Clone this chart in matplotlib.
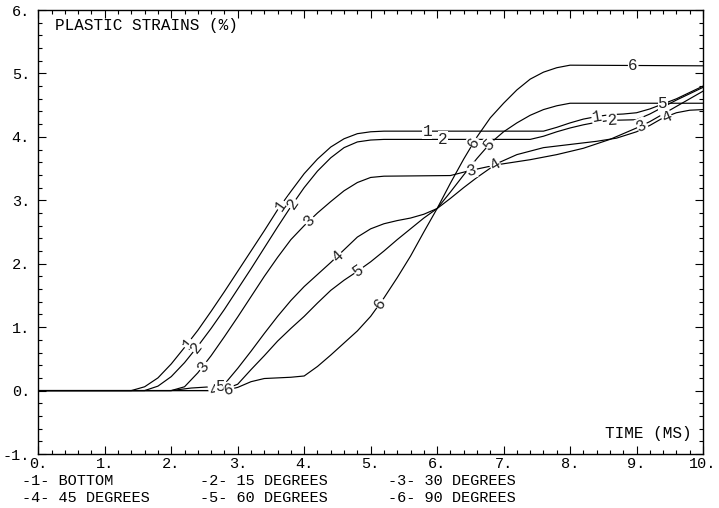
import numpy as np
import matplotlib
matplotlib.use("Agg")
import matplotlib.pyplot as plt

# time (ms) / plastic strain (%), one pair per curve
t1 = [0, 1.4, 1.6, 1.8, 2.0, 2.2, 2.4, 2.6, 2.8, 3.0, 3.2, 3.4, 3.6, 3.8, 4.0, 4.2, 4.4, 4.6, 4.8, 5.0, 5.2,
      7.6, 7.8, 8.0, 8.2, 8.4, 8.6, 8.8, 9.0, 9.2, 9.4, 9.6, 9.8, 10]
s1 = [0, 0, 0.06, 0.2, 0.42, 0.68, 0.95, 1.25, 1.56, 1.88, 2.2, 2.52, 2.85, 3.14, 3.42, 3.65, 3.84, 3.97, 4.05, 4.08, 4.09,
      4.09, 4.15, 4.22, 4.28, 4.32, 4.35, 4.36, 4.38, 4.44, 4.52, 4.6, 4.7, 4.8]

t2 = [0, 1.6, 1.8, 2.0, 2.2, 2.4, 2.6, 2.8, 3.0, 3.2, 3.4, 3.6, 3.8, 4.0, 4.2, 4.4, 4.6, 4.8, 5.0, 5.2, 5.4,
      7.4, 7.6, 7.8, 8.0, 8.2, 8.4, 8.6, 9.0, 9.2, 9.4, 9.6, 9.8, 10]
s2 = [0, 0, 0.07, 0.22, 0.44, 0.7, 0.98, 1.28, 1.6, 1.92, 2.25, 2.58, 2.9, 3.2, 3.46, 3.67, 3.83, 3.92, 3.95, 3.96, 3.96,
      3.96, 4.01, 4.08, 4.14, 4.19, 4.23, 4.26, 4.27, 4.36, 4.47, 4.58, 4.68, 4.78]

t3 = [0, 2.0, 2.2, 2.4, 2.6, 2.8, 3.0, 3.2, 3.4, 3.6, 3.8, 4.0, 4.2, 4.4, 4.6, 4.8, 5.0, 5.2,
      6.2, 6.5, 6.9, 7.4, 7.8, 8.2, 8.6, 8.8, 9.0, 9.2, 9.4, 9.6, 9.8, 10]
s3 = [0, 0, 0.06, 0.28, 0.55, 0.85, 1.16, 1.48, 1.8, 2.1, 2.38, 2.6, 2.8, 2.98, 3.15, 3.28, 3.36, 3.38,
      3.39, 3.47, 3.56, 3.64, 3.72, 3.82, 3.96, 4.05, 4.14, 4.24, 4.36, 4.48, 4.6, 4.72]

t4 = [0, 2.7, 2.8, 3.0, 3.2, 3.4, 3.6, 3.8, 4.0, 4.2, 4.4, 4.6, 4.8, 5.0, 5.2, 5.4, 5.6, 5.8, 6.0,
      6.2, 6.4, 6.6, 6.9, 7.2, 7.6, 8.0, 8.4, 8.7, 9.0, 9.2, 9.4, 9.6, 9.8, 10]
s4 = [0, 0, 0.1, 0.35, 0.62, 0.9, 1.17, 1.42, 1.64, 1.83, 2.02, 2.22, 2.42, 2.55, 2.63, 2.68, 2.72, 2.78, 2.87,
      3.03, 3.2, 3.36, 3.58, 3.72, 3.83, 3.88, 3.93, 3.98, 4.08, 4.18, 4.3, 4.38, 4.42, 4.43]

t5 = [0, 2.0, 2.3, 2.6, 2.9, 3.0, 3.2, 3.4, 3.6, 3.8, 4.0, 4.2, 4.4, 4.6, 4.8, 5.0, 5.2, 5.4, 5.6, 5.8, 6.0,
      6.2, 6.4, 6.6, 6.8, 7.0, 7.2, 7.4, 7.6, 7.8, 8.0, 10]
s5 = [0, 0, 0.04, 0.06, 0.06, 0.1, 0.33, 0.55, 0.78, 0.98, 1.17, 1.38, 1.58, 1.74, 1.88, 2.03, 2.2, 2.38, 2.55, 2.72, 2.87,
      3.13, 3.4, 3.66, 3.9, 4.08, 4.22, 4.34, 4.43, 4.49, 4.53, 4.53]

t6 = [0, 2.8, 3.0, 3.2, 3.4, 3.6, 3.8, 4.0, 4.2, 4.4, 4.6, 4.8, 5.0, 5.2, 5.4, 5.6, 5.8, 6.0,
      6.2, 6.4, 6.6, 6.8, 7.0, 7.2, 7.4, 7.6, 7.8, 8.0, 10]
s6 = [0, 0, 0.05, 0.14, 0.19, 0.2, 0.21, 0.23, 0.38, 0.56, 0.75, 0.94, 1.17, 1.46, 1.78, 2.12, 2.5, 2.87,
      3.27, 3.65, 4.0, 4.3, 4.53, 4.74, 4.91, 5.02, 5.09, 5.13, 5.12]

# where the curve numbers sit along each curve (time, ms)
lab1 = [2.25, 3.65, 5.85, 8.4]
lab2 = [2.38, 3.83, 6.09, 8.63]
lab3 = [2.48, 4.08, 6.52, 9.08]
lab4 = [2.64, 4.5, 6.87, 9.45]
lab5 = [2.74, 4.82, 6.79, 9.4]
lab6 = [2.87, 5.14, 6.55, 8.95]

legend_rows = [["-1- BOTTOM", "-2- 15 DEGREES", "-3- 30 DEGREES"],
               ["-4- 45 DEGREES", "-5- 60 DEGREES", "-6- 90 DEGREES"]]

xticks = [0, 1, 2, 3, 4, 5, 6, 7, 8, 9, 10]
yticks = [-1, 0, 1, 2, 3, 4, 5, 6]

plt.rcParams['font.family'] = ['Liberation Mono', 'DejaVu Sans Mono']
FS = 11

fig = plt.figure(figsize=(7.19, 5.08), dpi=100)
ax = fig.add_axes([38.3/719, 1 - 454/508, 664.7/719, 444/508])
ax.set_xlim(0, 10)
ax.set_ylim(-1, 6)

curves = [(t1, s1, lab1), (t2, s2, lab2), (t3, s3, lab3),
          (t4, s4, lab4), (t5, s5, lab5), (t6, s6, lab6)]

for t, s, _ in curves:
    ax.plot(t, s, color='black', lw=0.85)

for i, (t, s, labs) in enumerate(curves):
    for lx in labs:
        ly = np.interp(lx, t, s)
        # local slope on screen for the label angle
        a = ax.transData.transform((lx - 0.1, np.interp(lx - 0.1, t, s)))
        b = ax.transData.transform((lx + 0.1, np.interp(lx + 0.1, t, s)))
        ang = np.degrees(np.arctan2(b[1] - a[1], b[0] - a[0]))
        ax.text(lx, ly, str(i + 1), fontsize=11.5, ha='center', va='center',
                rotation=ang, rotation_mode='anchor', color='#222222',
                bbox=dict(boxstyle='square,pad=0.03', fc='white', ec='none'))

ax.set_xticks(xticks)
ax.set_xticklabels([f"{v}." for v in xticks])
ax.set_yticks(yticks)
ax.set_yticklabels([f"{v}." for v in yticks])
ax.set_xticks(np.arange(0, 10.01, 0.2), minor=True)
ax.set_yticks(np.arange(-1, 6.01, 0.2), minor=True)
ax.tick_params(which='both', direction='in', top=True, right=True, width=0.8, labelsize=FS)
ax.tick_params(which='major', length=6)
ax.tick_params(which='minor', length=3)
ax.tick_params(axis='x', pad=2)
ax.tick_params(axis='y', pad=6)
for sp in ax.spines.values():
    sp.set_linewidth(1.0)

ax.text(0.025, 0.964, "PLASTIC STRAINS (%)", transform=ax.transAxes, fontsize=11.5, va='center', ha='left')
ax.text(0.983, 0.047, "TIME (MS)", transform=ax.transAxes, fontsize=11.5, va='center', ha='right')

col_x = [22, 200, 388]
row_y = [481, 498]
for r, row in enumerate(legend_rows):
    for c, txt in enumerate(row):
        fig.text(col_x[c] / 719, 1 - row_y[r] / 508, txt, fontsize=FS, ha='left', va='center')

fig.savefig("out.png", dpi=100)
